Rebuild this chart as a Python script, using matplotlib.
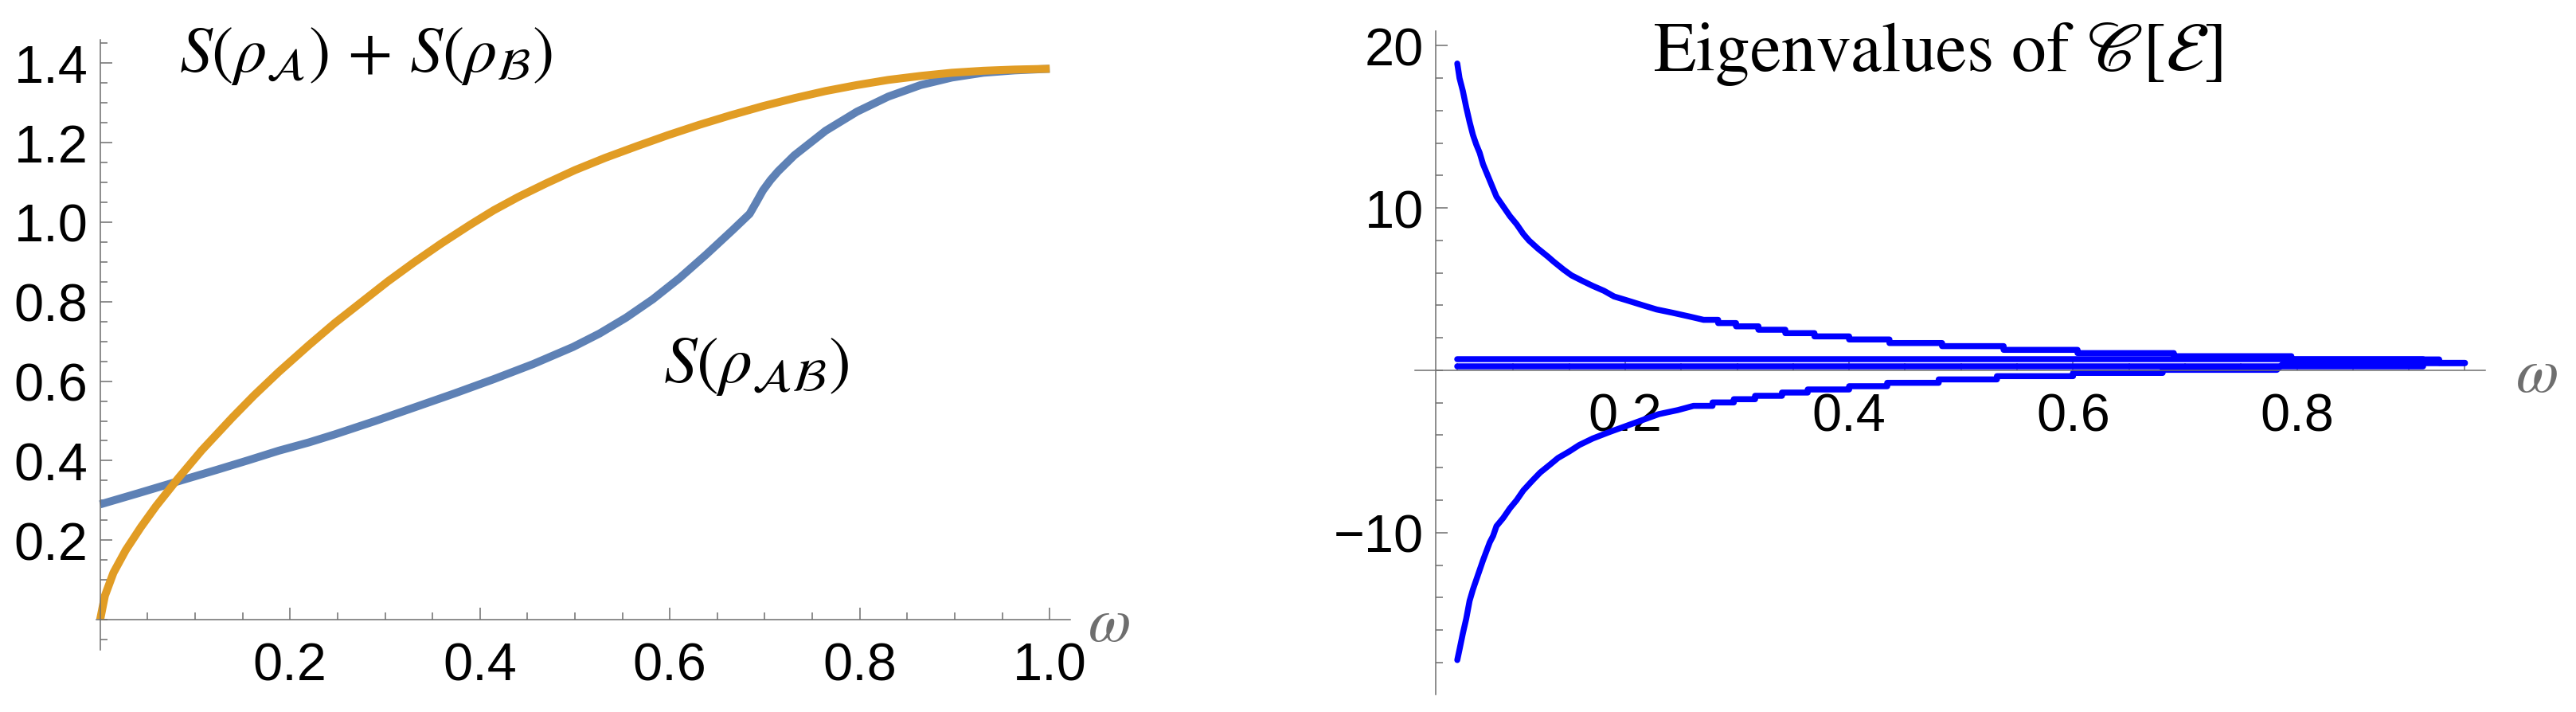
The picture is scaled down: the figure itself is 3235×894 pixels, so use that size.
"""Entropies and eigenvalues vs omega, two panels in Mathematica style."""

import matplotlib
matplotlib.use("Agg")
import matplotlib.pyplot as plt
from matplotlib.ticker import FixedLocator, MultipleLocator, FuncFormatter

# ---- left panel: entropies ----
omega_sum = [0, 0.005, 0.014, 0.027, 0.043, 0.059, 0.082, 0.107, 0.139, 0.162,
             0.188, 0.22, 0.247, 0.303, 0.33, 0.359, 0.39, 0.4145, 0.44, 0.47,
             0.50, 0.532, 0.565, 0.598, 0.631, 0.664, 0.698, 0.731, 0.764, 0.797,
             0.83, 0.864, 0.897, 0.93, 0.963, 1.0]
s_sum = [0, 0.06, 0.118, 0.175, 0.233, 0.286, 0.355, 0.426, 0.508, 0.564,
         0.623, 0.691, 0.746, 0.851, 0.898, 0.946, 0.994, 1.030, 1.063, 1.098,
         1.131, 1.162, 1.191, 1.219, 1.245, 1.269, 1.292, 1.312, 1.33, 1.345,
         1.358, 1.368, 1.376, 1.381, 1.384, 1.386]

omega_ab = [0, 0.04, 0.082, 0.123, 0.156, 0.188, 0.22, 0.247, 0.29, 0.331,
            0.373, 0.4145, 0.456, 0.498, 0.526, 0.554, 0.582, 0.61, 0.638, 0.666,
            0.684, 0.691, 0.698, 0.706, 0.714, 0.731, 0.764, 0.797, 0.83, 0.864,
            0.897, 0.93, 0.963, 1.0]
s_ab = [0.29, 0.318, 0.348, 0.377, 0.401, 0.425, 0.446, 0.466, 0.50, 0.534,
        0.569, 0.605, 0.643, 0.686, 0.72, 0.76, 0.806, 0.859, 0.918, 0.98,
        1.021, 1.05, 1.08, 1.106, 1.128, 1.168, 1.23, 1.278, 1.316, 1.345,
        1.364, 1.376, 1.382, 1.386]

# ---- right panel: eigenvalues ----
upper_w = [0.050, 0.052, 0.055, 0.058, 0.061, 0.064, 0.067, 0.070, 0.073, 0.076,
           0.079, 0.082, 0.085, 0.091, 0.097, 0.103, 0.109, 0.114, 0.122, 0.131,
           0.136, 0.145, 0.152, 0.162, 0.171, 0.181, 0.190, 0.202, 0.216, 0.228,
           0.242, 0.257, 0.270, 0.283, 0.283, 0.299, 0.299, 0.319, 0.319, 0.343,
           0.343, 0.369, 0.369, 0.400, 0.400, 0.436, 0.436, 0.483, 0.483, 0.538,
           0.538, 0.604, 0.604, 0.690, 0.690, 0.795, 0.795, 0.927, 0.927, 0.950]
upper_v = [18.9, 18.0, 17.2, 16.2, 15.3, 14.5, 13.9, 13.4, 12.7, 12.2,
           11.7, 11.2, 10.7, 10.1, 9.5, 9.0, 8.4, 8.0, 7.5, 7.0,
           6.7, 6.2, 5.85, 5.5, 5.2, 4.9, 4.55, 4.3, 4.0, 3.75,
           3.55, 3.32, 3.11, 3.11, 2.91, 2.91, 2.71, 2.71, 2.50, 2.50,
           2.29, 2.29, 2.09, 2.09, 1.90, 1.90, 1.68, 1.68, 1.49, 1.49,
           1.26, 1.26, 1.06, 1.06, 0.87, 0.87, 0.67, 0.67, 0.46, 0.46]

lower_w = [0.050, 0.052, 0.055, 0.058, 0.061, 0.064, 0.067, 0.070, 0.073, 0.076,
           0.079, 0.082, 0.085, 0.091, 0.097, 0.103, 0.109, 0.117, 0.124, 0.133,
           0.140, 0.150, 0.159, 0.171, 0.186, 0.202, 0.216, 0.230, 0.247, 0.261,
           0.278, 0.278, 0.297, 0.297, 0.316, 0.316, 0.340, 0.340, 0.363, 0.363,
           0.400, 0.400, 0.434, 0.434, 0.480, 0.480, 0.532, 0.532, 0.600, 0.600,
           0.680, 0.680, 0.782, 0.788, 0.950]
lower_v = [-17.85, -17.2, -16.2, -15.3, -14.2, -13.5, -12.9, -12.3, -11.7, -11.15,
           -10.6, -10.2, -9.6, -9.1, -8.5, -8.0, -7.4, -6.8, -6.3, -5.8,
           -5.4, -5.0, -4.6, -4.2, -3.8, -3.4, -3.05, -2.7, -2.45, -2.19,
           -2.19, -1.98, -1.98, -1.78, -1.78, -1.57, -1.57, -1.37, -1.37, -1.18,
           -1.18, -0.98, -0.98, -0.77, -0.77, -0.56, -0.56, -0.36, -0.36, -0.16,
           -0.16, 0.03, 0.03, 0.44, 0.44]

flat_w = [0.05, 0.913]
flat_hi = [0.67, 0.67]
flat_lo = [0.245, 0.245]

plt.rcParams["mathtext.fontset"] = "stix"
plt.rcParams["font.family"] = ["Liberation Sans", "DejaVu Sans"]

axis_grey = "#6e6e6e"
label_size = 48
color_ab = "#5e81b5"
color_sum = "#e19c24"
color_eig = "#0000ff"


def mma_axes(ax, x0, y0):
    """Mathematica-like axes crossing at (x0, y0), ticks pointing inward."""
    for s in ("top", "right"):
        ax.spines[s].set_visible(False)
    ax.spines["left"].set_position(("data", x0))
    ax.spines["bottom"].set_position(("data", y0))
    for s in ("left", "bottom"):
        ax.spines[s].set_color(axis_grey)
        ax.spines[s].set_linewidth(1.1)
    ax.tick_params(which="both", direction="in", color=axis_grey, labelcolor="black",
                   labelsize=label_size, width=1.1)
    ax.tick_params(which="major", length=11)
    ax.tick_params(which="minor", length=6.5)
    ax.tick_params(axis="y", pad=11)
    ax.tick_params(axis="x", pad=20)
    ax.patch.set_visible(False)


fig = plt.figure(figsize=(32.35, 8.95), dpi=100)

# Left panel
ax1 = fig.add_axes([0.0374, 0.0872, 0.3782, 0.8559])
ax1.plot(omega_ab, s_ab, color=color_ab, linewidth=7.2, solid_capstyle="butt", solid_joinstyle="round")
ax1.plot(omega_sum, s_sum, color=color_sum, linewidth=7.2, solid_capstyle="butt", solid_joinstyle="round")
ax1.set_xlim(-0.004, 1.022)
ax1.set_ylim(-0.076, 1.459)
mma_axes(ax1, 0, 0)
ax1.xaxis.set_major_locator(FixedLocator([0.2, 0.4, 0.6, 0.8, 1.0]))
ax1.xaxis.set_minor_locator(MultipleLocator(0.05))
ax1.yaxis.set_major_locator(FixedLocator([0.2, 0.4, 0.6, 0.8, 1.0, 1.2, 1.4]))
ax1.yaxis.set_minor_locator(MultipleLocator(0.05))
ax1.xaxis.set_major_formatter(FuncFormatter(lambda v, p: f"{v:.1f}"))
ax1.yaxis.set_major_formatter(FuncFormatter(lambda v, p: f"{v:.1f}"))
ax1.text(0.083, 1.38, r"$S(\rho_{\mathcal{A}})\,+\,S(\rho_{\mathcal{B}})$", fontsize=59, va="baseline")
ax1.text(0.593, 0.599, r"$S(\rho_{\mathcal{AB}})$", fontsize=60, va="baseline")
ax1.text(1.062, -0.01, r"$\omega$", fontsize=56, color=axis_grey, ha="center", va="center")

# Right panel
ax2 = fig.add_axes([0.5492, 0.0246, 0.4155, 0.9307])
for w, v in ((flat_w, flat_hi), (flat_w, flat_lo), (upper_w, upper_v), (lower_w, lower_v)):
    ax2.plot(w, v, color=color_eig, linewidth=5.4, solid_capstyle="round", solid_joinstyle="round")
ax2.set_xlim(0.012, 0.968)
ax2.set_ylim(-19.97, 20.9)
mma_axes(ax2, 0.031, 0)
ax2.xaxis.set_major_locator(FixedLocator([0.2, 0.4, 0.6, 0.8]))
ax2.xaxis.set_minor_locator(MultipleLocator(0.05))
ax2.yaxis.set_major_locator(FixedLocator([-10, 10, 20]))
ax2.yaxis.set_minor_locator(MultipleLocator(2))
ax2.xaxis.set_major_formatter(FuncFormatter(lambda v, p: f"{v:.1f}"))
ax2.yaxis.set_major_formatter(FuncFormatter(lambda v, p: f"{int(round(v))}".replace("-", "\u2212")))
ax2.text(0.479, 18.5, r"Eigenvalues of $\mathscr{C}[\mathcal{E}]$", fontsize=63,
         family="STIXGeneral", ha="center", va="baseline")
ax2.text(1.014, -0.25, r"$\omega$", fontsize=56, color=axis_grey, ha="center", va="center")

plt.savefig("out.png", dpi=100)
plt.close()
